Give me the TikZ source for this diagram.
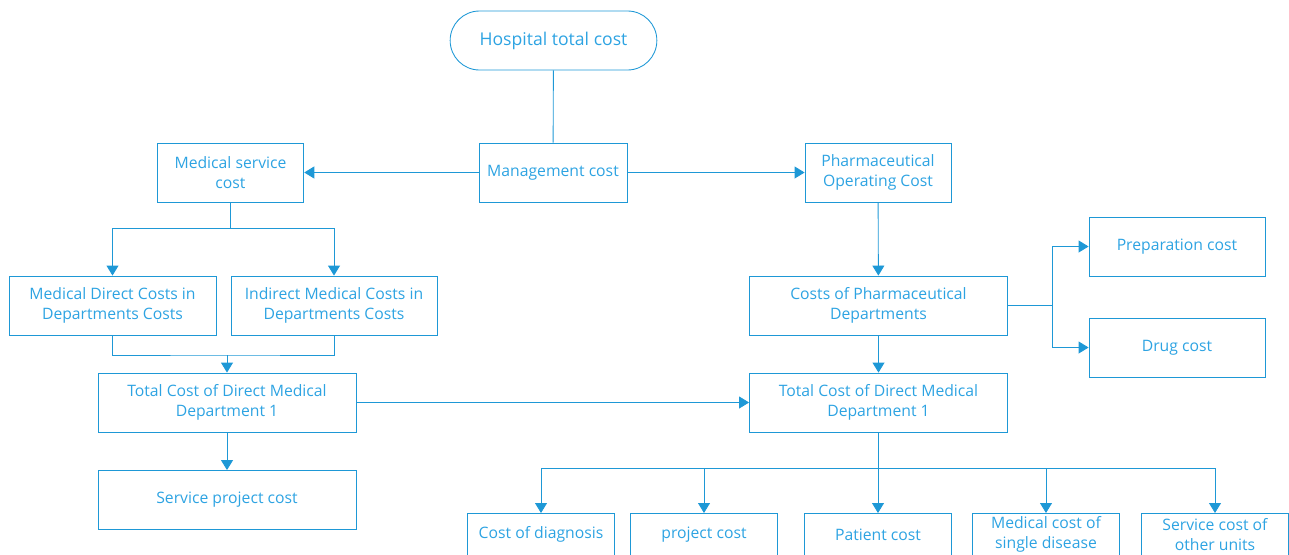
\documentclass[tikz,border=0pt]{standalone}
\usepackage{fontspec}
\setmainfont{Open Sans}
\usetikzlibrary{arrows.meta}
\definecolor{lineblue}{RGB}{30,152,214}
\definecolor{textblue}{RGB}{45,163,226}

\begin{document}
\begin{tikzpicture}[x=0.75pt,y=-0.75pt,
	box/.style={draw=lineblue,line width=0.65pt,text=textblue,align=center,inner sep=2pt,font=\fontsize{11.8}{15}\selectfont,minimum height=44.25pt},
	arr/.style={-{Triangle[length=7.5pt,width=9pt]}},
	link/.style={draw=lineblue,line width=0.65pt}]
	\useasboundingbox (0,0) rectangle (1289,554);
	\node[box,rounded corners=22pt,minimum width=155pt,font=\fontsize{13.2}{16}\selectfont] (hosp) at (553.5,40.5) {Hospital total cost};
	\node[box,minimum width=111pt] (mgmt) at (553,172.5) {Management cost};
	\node[box,minimum width=110pt] (medsvc) at (230.5,172.5) {Medical service\\cost};
	\node[box,minimum width=109.5pt] (pharm) at (878,172.5) {Pharmaceutical\\Operating Cost};
	\node[box,minimum width=155.25pt] (meddir) at (112.5,305.5) {Medical Direct Costs in\\Departments Costs};
	\node[box,minimum width=154.5pt] (medind) at (334,305.5) {Indirect Medical Costs in\\Departments Costs};
	\node[box,minimum width=193.5pt] (totl) at (227,402.5) {Total Cost of Direct Medical\\Department 1};
	\node[box,minimum width=193.5pt] (svcproj) at (227,500) {Service project cost};
	\node[box,minimum width=193.5pt] (pharmdep) at (878.5,305.5) {Costs of Pharmaceutical\\Departments};
	\node[box,minimum width=132pt] (prep) at (1177,246.5) {Preparation cost};
	\node[box,minimum width=132pt] (drug) at (1177,347.5) {Drug cost};
	\node[box,minimum width=193.5pt] (totr) at (878.5,402.5) {Total Cost of Direct Medical\\Department 1};
	\foreach \n/\x/\t in {diag/541/{Cost of diagnosis},proj/704/{project cost},pat/878/{Patient cost},sing/1046/{Medical cost of\\single disease},other/1215/{Service cost of\\other units}}
		\node[box,anchor=north,minimum width=110.5pt,minimum height=31.5pt] (\n) at (\x,513) {\t};
	\coordinate (forkl) at (230.5,228);
	\coordinate (merge) at (227,355);
	\coordinate (forkr) at (1052,305.5);
	\coordinate (busr) at (878.5,468);
	\draw[link] (hosp) -- (mgmt);
	\draw[link,arr] (mgmt) -- (medsvc);
	\draw[link,arr] (mgmt) -- (pharm);
	\draw[link] (medsvc) -- (forkl);
	\draw[link,arr] (forkl) -| (meddir);
	\draw[link,arr] (forkl) -| (medind);
	\draw[link] (meddir.south) |- (merge) -| (medind.south);
	\draw[link,arr] (merge) -- (totl);
	\draw[link,arr] (totl) -- (svcproj);
	\draw[link,arr] (totl) -- (totr);
	\draw[link,arr] (pharm) -- (pharmdep);
	\draw[link] (pharmdep) -- (forkr);
	\draw[link,arr] (forkr) |- (prep);
	\draw[link,arr] (forkr) |- (drug);
	\draw[link,arr] (pharmdep) -- (totr);
	\draw[link] (totr) -- (busr);
	\draw[link] (busr -| diag) -- (busr -| other);
	\foreach \n in {diag,proj,pat,sing,other} \draw[link,arr] (busr -| \n) -- (\n);
\end{tikzpicture}
\end{document}
